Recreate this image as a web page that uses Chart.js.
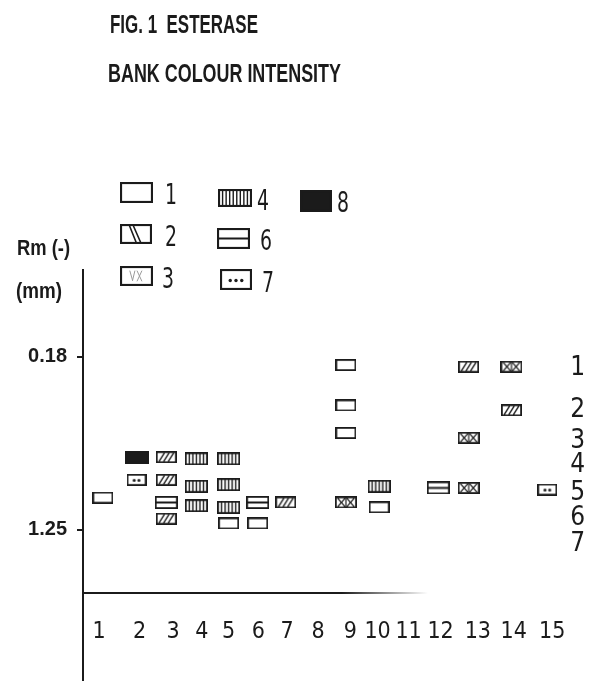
<!DOCTYPE html>
<html>
<head>
<meta charset="utf-8">
<title>Esterase – band colour intensity</title>
<script src="https://cdn.jsdelivr.net/npm/chart.js@4.4.1/dist/chart.umd.min.js"></script>
<style>
  html, body { margin: 0; padding: 0; background: #fff; }
  #wrap { position: relative; width: 591px; height: 681px; }
  canvas { display: block; }
</style>
</head>
<body>
<div id="wrap"><canvas id="gel" width="591" height="681"></canvas></div>
<script>
// ---- Lanes (samples) along the gel --------------------------------------
const lanes = ['1', '2', '3', '4', '5', '6', '7', '8', '9', '10', '11', '12', '13', '14', '15'];
// where each lane number is written along the gel (lane-width units)
const laneLabelAt = [0.99, 2.23, 3.26, 4.14, 4.96, 5.87, 6.75, 7.70, 8.69, 9.52, 10.47, 11.45, 12.59, 13.69, 14.87];
// centre of the column of bands in each lane (same units)
const laneBandAt = [1.11, 2.14, 3.05, 3.97, 4.96, 5.85, 6.71, 7.72, 8.55, 9.57, 10.48, 11.38, 12.31, 13.62, 14.72];

// ---- Rm axis --------------------------------------------------------------
const rmTicks = [0.18, 1.25];
// esterase zones numbered on the right-hand side
const zones = ['1', '2', '3', '4', '5', '6', '7'];
const zoneRm = [0.25, 0.51, 0.70, 0.85, 1.02, 1.18, 1.34];

// ---- Bands, one list per colour-intensity class: [lane, Rm] --------------
const intensity1 = [[1, 1.05], [5, 1.21], [6, 1.21], [9, 0.23], [9, 0.48], [9, 0.65], [10, 1.11]];
const intensity2 = [[3, 0.80], [3, 0.94], [3, 1.18], [7, 1.08], [13, 0.24], [14, 0.51]];
const intensity3 = [[9, 1.08], [13, 0.68], [13, 0.99], [14, 0.24]];
const intensity4 = [[4, 0.81], [4, 0.98], [4, 1.10], [5, 0.81], [5, 0.97], [5, 1.11], [10, 0.98]];
const intensity6 = [[3, 1.08], [6, 1.08], [12, 0.99]];
const intensity7 = [[2, 0.94], [15, 1.00]];
const intensity8 = [[2, 0.80]];
const classes = ['1', '2', '3', '4', '6', '7', '8'];
const classBands = [intensity1, intensity2, intensity3, intensity4, intensity6, intensity7, intensity8];

// ---- Look ------------------------------------------------------------------
const ink = '#1b1b1b';
const narrow = '"Liberation Sans Narrow", "DejaVu Sans Condensed", "Liberation Sans", sans-serif';
const heavy = '"Liberation Sans", Arial, sans-serif';

// band glyph size on the gel
const bandSize = { '1': [21, 12], '2': [21, 12], '3': [22, 12], '4': [23, 13], '6': [23, 13], '7': [20, 12], '8': [24, 13] };

// Draws one band symbol (hatched box) into its own small canvas.
function bandImage(kind, w, h, inKey) {
  const c = document.createElement('canvas');
  c.width = w; c.height = h;
  const g = c.getContext('2d');
  const lw = inKey ? 2.1 : 1.8;
  const x0 = lw / 2, y0 = lw / 2, x1 = w - lw / 2, y1 = h - lw / 2;
  g.lineCap = 'round';
  const seg = (ax, ay, bx, by, width, col) => {
    g.beginPath(); g.moveTo(ax, ay); g.lineTo(bx, by);
    g.lineWidth = width; g.strokeStyle = col || ink; g.stroke();
  };
  if (kind === '8') {
    g.fillStyle = ink; g.fillRect(0, 0, w, h);
  } else if (kind === '2') {
    if (inKey) {
      seg(w * 0.30, y0 + 1, w * 0.50, y1 - 1, 1.6);
      seg(w * 0.42, y0 + 1, w * 0.64, y1 - 1, 1.6);
    } else {
      for (let i = 0; i < 3; i++) {
        const cx = w * (0.28 + 0.22 * i);
        seg(cx - 2.6, y1 - 1, cx + 2.6, y0 + 1, 1.4);
      }
    }
  } else if (kind === '3') {
    if (inKey) {
      const col = '#9a9a9a';
      seg(w * 0.30, h * 0.25, w * 0.38, h * 0.72, 1, col);
      seg(w * 0.38, h * 0.72, w * 0.45, h * 0.25, 1, col);
      seg(w * 0.52, h * 0.25, w * 0.66, h * 0.75, 1, col);
      seg(w * 0.66, h * 0.25, w * 0.52, h * 0.75, 1, col);
    } else {
      const m = w / 2;
      seg(x0 + 2, y0 + 1, m - 1, y1 - 1, 1.3);
      seg(x0 + 2, y1 - 1, m - 1, y0 + 1, 1.3);
      seg(m + 1, y0 + 1, x1 - 2, y1 - 1, 1.3);
      seg(m + 1, y1 - 1, x1 - 2, y0 + 1, 1.3);
      seg(m, y0, m, y1, 1.2);
    }
  } else if (kind === '4') {
    const n = inKey ? 8 : 5;
    for (let i = 1; i <= n; i++) {
      const x = x0 + (x1 - x0) * i / (n + 1);
      seg(x, y0, x, y1, 1.4);
    }
  } else if (kind === '6') {
    seg(x0, h / 2, x1, h / 2, inKey ? 2 : 2);
  } else if (kind === '7') {
    g.fillStyle = ink;
    const dots = inKey ? [0.32, 0.5, 0.68] : [0.38, 0.62];
    dots.forEach(f => { g.beginPath(); g.arc(w * f, h * 0.55, inKey ? 1.7 : 1.5, 0, Math.PI * 2); g.fill(); });
  }
  g.lineWidth = lw; g.strokeStyle = ink;
  g.strokeRect(x0, y0, x1 - x0, y1 - y0);
  return c;
}

// key layout: box left, box top, box w, box h, number x, number baseline
const keySlots = {
  '1': [120, 182, 33, 21, 165, 203.5],
  '2': [120, 224, 32, 20, 165, 245.5],
  '3': [120, 266, 33, 20, 162, 287.5],
  '4': [218, 189, 34, 18, 257, 210],
  '6': [217, 228, 33, 21, 260, 250],
  '7': [220, 269, 32, 21, 262, 291.5],
  '8': [300, 190, 32, 22, 337, 212]
};

const datasets = classes.map((cls, k) => ({
  label: cls,
  data: classBands[k].map(([lane, rm]) => ({ x: laneBandAt[lane - 1], y: rm })),
  pointStyle: bandImage(cls, bandSize[cls][0], bandSize[cls][1], false),
  pointRadius: 10,
  pointHoverRadius: 10,
  showLine: false,
  xAxisID: 'x',
  yAxisID: 'y'
}));

// Titles, axis caption, key and the hand-ruled axis lines.
const gelDecor = {
  id: 'gelDecor',
  beforeDraw(chart) {
    const g = chart.ctx;
    g.save();
    g.fillStyle = '#fff';
    g.fillRect(0, 0, chart.width, chart.height);
    g.restore();
  },
  afterDraw(chart) {
    const g = chart.ctx;
    const area = chart.chartArea;
    g.save();
    g.fillStyle = ink;
    g.textBaseline = 'alphabetic';
    g.textAlign = 'left';

    g.font = 'bold 25px ' + heavy;
    g.fillText('FIG. 1  ESTERASE', 110, 33, 148);
    g.fillText('BANK COLOUR INTENSITY', 108, 81.5, 233);

    g.font = 'bold 22px ' + heavy;
    g.fillText('Rm (-)', 17, 255, 53);
    g.fillText('(mm)', 16, 297.5, 46);

    // y axis continues below the start line
    const yAxis = chart.scales.y;
    g.strokeStyle = ink;
    g.lineWidth = 2;
    g.beginPath();
    g.moveTo(Math.round(yAxis.right), area.bottom - 1);
    g.lineTo(Math.round(yAxis.right), chart.height);
    g.stroke();

    // start line, fading out towards the right
    const grad = g.createLinearGradient(area.left, 0, area.left + 345, 0);
    grad.addColorStop(0, ink);
    grad.addColorStop(0.75, ink);
    grad.addColorStop(1, 'rgba(27,27,27,0)');
    g.strokeStyle = grad;
    g.beginPath();
    g.moveTo(area.left, area.bottom);
    g.lineTo(area.left + 345, area.bottom);
    g.stroke();

    // key
    g.font = '28px ' + narrow;
    chart.data.datasets.forEach(ds => {
      const s = keySlots[ds.label];
      g.drawImage(bandImage(ds.label, s[2], s[3], true), s[0], s[1]);
      g.fillText(ds.label, s[4], s[5], 12);
    });
    g.restore();
  }
};

new Chart(document.getElementById('gel'), {
  type: 'scatter',
  data: { datasets },
  options: {
    responsive: false,
    animation: false,
    devicePixelRatio: 1,
    layout: { padding: { top: 270, left: 0, right: 0, bottom: 0 } },
    plugins: {
      legend: { display: false },
      title: { display: false },
      tooltip: { enabled: false }
    },
    scales: {
      x: {
        type: 'linear', position: 'bottom', min: 0.5, max: 15.3, bounds: 'data',
        grid: { display: false, drawTicks: false },
        border: { display: false },
        afterBuildTicks: s => { s.ticks = laneLabelAt.map(v => ({ value: v })); },
        afterFit: s => { s.height = 88; },
        ticks: {
          autoSkip: false, maxRotation: 0, minRotation: 0, padding: 25,
          color: ink, font: { family: narrow, size: 23 },
          callback: (v, i) => lanes[i]
        }
      },
      y: {
        type: 'linear', position: 'left', reverse: true, min: -0.358, max: 1.640, bounds: 'data',
        grid: { drawOnChartArea: false, drawTicks: true, tickLength: 6, color: ink, lineWidth: 2 },
        border: { display: true, color: ink, width: 2 },
        afterBuildTicks: s => { s.ticks = rmTicks.map(v => ({ value: v })); },
        afterFit: s => { s.width = 83; },
        ticks: {
          padding: 10, color: ink, font: { family: heavy, size: 20, weight: 'bold' },
          callback: v => v.toFixed(2)
        }
      },
      zone: {
        axis: 'y', type: 'linear', position: 'right', reverse: true, min: -0.358, max: 1.640, bounds: 'data',
        grid: { display: false, drawTicks: false },
        border: { display: false },
        afterBuildTicks: s => { s.ticks = zoneRm.map(v => ({ value: v })); },
        afterFit: s => { s.width = 20; },
        ticks: {
          padding: 4, color: ink, font: { family: narrow, size: 26 },
          callback: (v, i) => zones[i]
        }
      }
    }
  },
  plugins: [gelDecor]
});
</script>
</body>
</html>
